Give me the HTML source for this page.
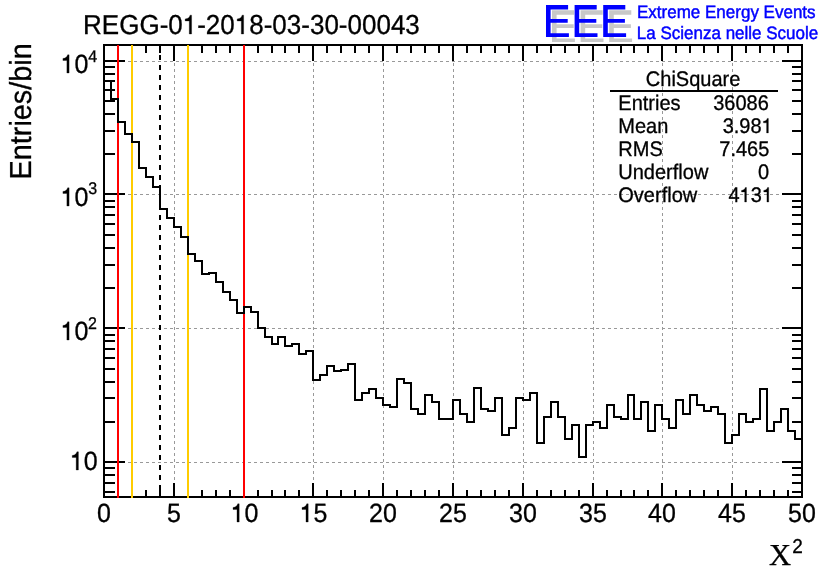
<!DOCTYPE html><html><head><meta charset="utf-8"><style>html,body{margin:0;padding:0;background:#fff;overflow:hidden}svg{display:block;will-change:transform}text:not([fill]),path.g1:not([fill]){stroke:#000;stroke-width:0.3px;vector-effect:non-scaling-stroke}</style></head><body>
<svg width="836" height="572" viewBox="0 0 836 572" font-family="Liberation Sans, sans-serif" text-rendering="geometricPrecision" style="font-kerning:none">
<rect width="836" height="572" fill="#fff"/>
<path d="M104 462.5H802M104 328.5H802M104 194.5H802M104 61.5H802M174.5 45V497M244.5 45V497M313.5 45V497M383.5 45V497M453.5 45V497M523.5 45V497M593.5 45V497M662.5 45V497M732.5 45V497" stroke="#999" stroke-width="1" stroke-dasharray="3 3" fill="none"/>
<path d="M118 497V490M118 45V53M132 497V490M132 45V53M146 497V490M146 45V53M160 497V490M160 45V53M174 497V483M174 45V61M188 497V490M188 45V53M202 497V490M202 45V53M216 497V490M216 45V53M230 497V490M230 45V53M244 497V483M244 45V61M258 497V490M258 45V53M272 497V490M272 45V53M285 497V490M285 45V53M299 497V490M299 45V53M313 497V483M313 45V61M327 497V490M327 45V53M341 497V490M341 45V53M355 497V490M355 45V53M369 497V490M369 45V53M383 497V483M383 45V61M397 497V490M397 45V53M411 497V490M411 45V53M425 497V490M425 45V53M439 497V490M439 45V53M453 497V483M453 45V61M467 497V490M467 45V53M481 497V490M481 45V53M495 497V490M495 45V53M509 497V490M509 45V53M523 497V483M523 45V61M537 497V490M537 45V53M551 497V490M551 45V53M565 497V490M565 45V53M579 497V490M579 45V53M593 497V483M593 45V61M607 497V490M607 45V53M621 497V490M621 45V53M634 497V490M634 45V53M648 497V490M648 45V53M662 497V483M662 45V61M676 497V490M676 45V53M690 497V490M690 45V53M704 497V490M704 45V53M718 497V490M718 45V53M732 497V483M732 45V61M746 497V490M746 45V53M760 497V490M760 45V53M774 497V490M774 45V53M788 497V490M788 45V53M104 492H115M802 492H792M104 483H115M802 483H792M104 475H115M802 475H792M104 468H115M802 468H792M104 462H125M802 462H782M104 422H115M802 422H792M104 398H115M802 398H792M104 382H115M802 382H792M104 369H115M802 369H792M104 358H115M802 358H792M104 349H115M802 349H792M104 341H115M802 341H792M104 335H115M802 335H792M104 328H125M802 328H782M104 288H115M802 288H792M104 265H115M802 265H792M104 248H115M802 248H792M104 235H115M802 235H792M104 224H115M802 224H792M104 215H115M802 215H792M104 207H115M802 207H792M104 201H115M802 201H792M104 194H125M802 194H782M104 154H115M802 154H792M104 131H115M802 131H792M104 114H115M802 114H792M104 101H115M802 101H792M104 90H115M802 90H792M104 81H115M802 81H792M104 74H115M802 74H792M104 67H115M802 67H792M104 61H125M802 61H782" stroke="#000" stroke-width="2" fill="none"/>
<rect x="104" y="45" width="698" height="452" stroke="#000" stroke-width="2" fill="none"/>
<path d="M118 45V498M244 45V498" stroke="#f00" stroke-width="2"/>
<path d="M132 45V498M188 45V498" stroke="#fc0" stroke-width="2"/>
<path d="M160 45V498" stroke="#000" stroke-width="2" stroke-dasharray="5 5"/>
<path d="M104 497V81H111V99H118V122H125V134H132V142H139V168H146V177H153V187H160V209H167V218H174V227H181V237H188V254H195V261H202V274H209V273H216V282H223V292H230V300H237V313H244V307H251V312H258V328H265V337H272V344H278V337H285V346H292V344H299V354H306V351H313V380H320V375H327V366H334V371H341V370H348V364H355V400H362V393H369V389H376V398H383V405H390V407H397V379H404V383H411V409H418V414H425V395H432V402H439V419H446V419H453V400H460V414H467V422H474V388H481V409H488V411H495V398H502V435H509V428H516V398H523V400H530V393H537V443H544V417H551V402H558V417H565V439H572V425H579V457H586V425H593V422H600V428H607V405H614V417H621V419H628V395H634V419H641V402H648V431H655V405H662V419H669V428H676V400H683V414H690V395H697V405H704V411H711V407H718V414H725V443H732V435H739V414H746V422H753V419H760V389H767V431H774V422H781V409H788V431H795V439H802V497" stroke="#000" stroke-width="2" fill="none" stroke-linejoin="miter"/>
<text transform="translate(83.07,34) scale(1,1.055)" font-size="26">REGG-0&#x2007;-20&#x2007;8-03-30-00043</text><path class="g1" d="M696 0V1409H575C548 1290 450 1140 190 1128V975H515V0Z" transform="translate(182.75,34) scale(0.012695,-0.013394)"/><path class="g1" d="M696 0V1409H575C548 1290 450 1140 190 1128V975H515V0Z" transform="translate(234.79,34) scale(0.012695,-0.013394)"/>
<text transform="translate(31,179.4) rotate(-90) scale(1,1.055)" font-size="28.8">Entries/bin</text>
<text transform="translate(60.60,73) scale(1,1.055)" font-size="25">&#x2007;0</text><path class="g1" d="M696 0V1409H575C548 1290 450 1140 190 1128V975H515V0Z" transform="translate(60.60,73) scale(0.012207,-0.012878)"/><text transform="translate(88.23,61.6) scale(1,1.055)" font-size="16">4</text>
<text transform="translate(60.60,206) scale(1,1.055)" font-size="25">&#x2007;0</text><path class="g1" d="M696 0V1409H575C548 1290 450 1140 190 1128V975H515V0Z" transform="translate(60.60,206) scale(0.012207,-0.012878)"/><text transform="translate(88.30,194.0) scale(1,1.055)" font-size="16">3</text>
<text transform="translate(60.60,340) scale(1,1.055)" font-size="25">&#x2007;0</text><path class="g1" d="M696 0V1409H575C548 1290 450 1140 190 1128V975H515V0Z" transform="translate(60.60,340) scale(0.012207,-0.012878)"/><text transform="translate(88.10,328.8) scale(1,1.055)" font-size="16">2</text>
<text transform="translate(69.90,470) scale(1,1.055)" font-size="25">&#x2007;0</text><path class="g1" d="M696 0V1409H575C548 1290 450 1140 190 1128V975H515V0Z" transform="translate(69.90,470) scale(0.012207,-0.012878)"/>
<text transform="translate(104,522) scale(1,1.055)" font-size="25" text-anchor="middle">0</text>
<text transform="translate(174,522) scale(1,1.055)" font-size="25" text-anchor="middle">5</text>
<text transform="translate(230.70,522) scale(1,1.055)" font-size="25">&#x2007;0</text><path class="g1" d="M696 0V1409H575C548 1290 450 1140 190 1128V975H515V0Z" transform="translate(230.70,522) scale(0.012207,-0.012878)"/>
<text transform="translate(299.70,522) scale(1,1.055)" font-size="25">&#x2007;5</text><path class="g1" d="M696 0V1409H575C548 1290 450 1140 190 1128V975H515V0Z" transform="translate(299.70,522) scale(0.012207,-0.012878)"/>
<text transform="translate(383,522) scale(1,1.055)" font-size="25" text-anchor="middle">20</text>
<text transform="translate(453,522) scale(1,1.055)" font-size="25" text-anchor="middle">25</text>
<text transform="translate(523,522) scale(1,1.055)" font-size="25" text-anchor="middle">30</text>
<text transform="translate(593,522) scale(1,1.055)" font-size="25" text-anchor="middle">35</text>
<text transform="translate(662,522) scale(1,1.055)" font-size="25" text-anchor="middle">40</text>
<text transform="translate(732,522) scale(1,1.055)" font-size="25" text-anchor="middle">45</text>
<text transform="translate(802,522) scale(1,1.055)" font-size="25" text-anchor="middle">50</text>
<text x="769" y="564.9" font-size="30.5" font-family="Liberation Serif, serif">X</text>
<text transform="translate(792.2,553) scale(1,1.055)" font-size="19">2</text>
<text transform="translate(693.1,86) scale(1,1.055)" font-size="20" text-anchor="middle">ChiSquare</text>
<path d="M610 91H778" stroke="#000" stroke-width="2"/>
<text transform="translate(618.3,110) scale(1,1.055)" font-size="20">Entries</text><text transform="translate(713.14,110) scale(1,1.055)" font-size="20">36086</text>
<text transform="translate(618.3,132.9) scale(1,1.055)" font-size="20">Mean</text><text transform="translate(722.64,132.9) scale(1,1.055)" font-size="20">3.98&#x2007;</text><path class="g1" d="M696 0V1409H575C548 1290 450 1140 190 1128V975H515V0Z" transform="translate(761.57,132.9) scale(0.009766,-0.010303)"/>
<text transform="translate(618.3,155.7) scale(1,1.055)" font-size="20">RMS</text><text transform="translate(719.30,155.7) scale(1,1.055)" font-size="20">7.465</text>
<text transform="translate(618.3,179.2) scale(1,1.055)" font-size="20">Underflow</text><text transform="translate(758.00,179.2) scale(1,1.055)" font-size="20">0</text>
<text transform="translate(618.3,202) scale(1,1.055)" font-size="20">Overflow</text><text transform="translate(728.54,202) scale(1,1.055)" font-size="20">4&#x2007;3&#x2007;</text><path class="g1" d="M696 0V1409H575C548 1290 450 1140 190 1128V975H515V0Z" transform="translate(739.66,202) scale(0.009766,-0.010303)"/><path class="g1" d="M696 0V1409H575C548 1290 450 1140 190 1128V975H515V0Z" transform="translate(761.91,202) scale(0.009766,-0.010303)"/>
<path d="M552.0 10.2h22.1v4.6h-17.5v9.4h17.1v3.8h-17.1v10.4h18.3v3.7h-22.9z" fill="#c8c8c8"/>
<path d="M580.6 10.2h22.1v4.6h-17.5v9.4h17.1v3.8h-17.1v10.4h18.3v3.7h-22.9z" fill="#c8c8c8"/>
<path d="M609.2 10.2h22.1v4.6h-17.5v9.4h17.1v3.8h-17.1v10.4h18.3v3.7h-22.9z" fill="#c8c8c8"/>
<path d="M546.0 5h22.1v4.6h-17.5v9.4h17.1v3.8h-17.1v10.4h18.3v3.7h-22.9z" fill="#00f"/>
<path d="M574.6 5h22.1v4.6h-17.5v9.4h17.1v3.8h-17.1v10.4h18.3v3.7h-22.9z" fill="#00f"/>
<path d="M603.2 5h22.1v4.6h-17.5v9.4h17.1v3.8h-17.1v10.4h18.3v3.7h-22.9z" fill="#00f"/>
<text transform="translate(637.0,17.8) scale(1,1.055)" font-size="17" fill="#00f" stroke="#00f" stroke-width="0.45">Extreme Energy Events</text>
<text transform="translate(636.8,38.8) scale(1,1.055)" font-size="17" fill="#00f" stroke="#00f" stroke-width="0.45">La Scienza nelle Scuole</text>
</svg></body></html>
